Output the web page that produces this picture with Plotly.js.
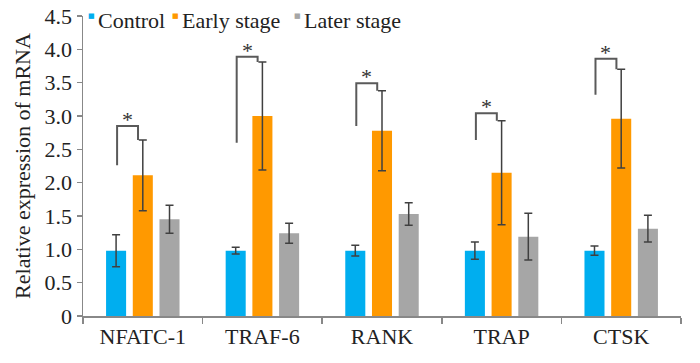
<!DOCTYPE html>
<html>
<head>
<meta charset="utf-8">
<script src="https://cdn.plot.ly/plotly-3.0.1.min.js"></script>
<style>html,body{margin:0;padding:0;background:#fff}#chart{width:700px;height:363px}</style>
</head>
<body>
<div id="chart"></div>
<script>
const categories = ['NFATC-1', 'TRAF-6', 'RANK', 'TRAP', 'CTSK'];
const seriesNames = ['Control', 'Early stage', 'Later stage'];
const control = [0.98, 0.98, 0.98, 0.98, 0.98];
const controlErr = [0.24, 0.05, 0.08, 0.13, 0.07];
const early = [2.11, 3.00, 2.78, 2.15, 2.96];
const earlyErr = [0.53, 0.81, 0.60, 0.78, 0.74];
const later = [1.45, 1.24, 1.53, 1.19, 1.31];
const laterErr = [0.21, 0.15, 0.17, 0.35, 0.20];
const bracketLow = [2.26, 2.60, 2.85, 2.64, 3.32];
const bracketTop = [2.85, 3.89, 3.49, 3.04, 3.86];
const yTickVals = [0, 0.5, 1.0, 1.5, 2.0, 2.5, 3.0, 3.5, 4.0, 4.5];
const yTickText = ['0', '0.5', '1.0', '1.5', '2.0', '2.5', '3.0', '3.5', '4.0', '4.5'];

const colors = ['#00AEEF', '#FF9900', '#A6A6A6'];
const FONT = 'Liberation Serif, Times New Roman, serif';
const errStyle = (arr) => ({type: 'data', array: arr, visible: true, color: '#404040', thickness: 1.5, width: 4});

const traces = [
  {type: 'bar', name: seriesNames[0], x: categories, y: control, marker: {color: colors[0]}, error_y: errStyle(controlErr)},
  {type: 'bar', name: seriesNames[1], x: categories, y: early, marker: {color: colors[1]}, error_y: errStyle(earlyErr)},
  {type: 'bar', name: seriesNames[2], x: categories, y: later, marker: {color: colors[2]}, error_y: errStyle(laterErr)}
];

const shapes = [];
const annotations = [];
const leftOff = -0.215, rightOff = -0.04;
categories.forEach((c, i) => {
  const xl = i + leftOff, xr = i + rightOff;
  const yr = early[i] + earlyErr[i];
  shapes.push({type: 'path', xref: 'x', yref: 'y',
    path: `M ${xl} ${bracketLow[i]} L ${xl} ${bracketTop[i]} L ${xr} ${bracketTop[i]} L ${xr} ${yr}`,
    line: {color: '#5a5a5a', width: 2}});
  annotations.push({xref: 'x', yref: 'y', x: (xl + xr) / 2, y: bracketTop[i], text: '*', showarrow: false,
    yanchor: 'bottom', yshift: -8, font: {family: FONT, size: 22, color: '#333'}});
});

// legend drawn as text entries, each preceded by a small coloured square
const legendX = [0.0217, 0.162, 0.366];
seriesNames.forEach((n, k) => {
  annotations.push({xref: 'paper', yref: 'paper', x: legendX[k], y: 0.985, xanchor: 'left', yanchor: 'middle', showarrow: false,
    text: n, font: {family: FONT, size: 22, color: '#222'}});
  annotations.push({xref: 'paper', yref: 'paper', x: legendX[k], y: 0.985, xanchor: 'right', yanchor: 'middle', showarrow: false,
    text: '■', xshift: 1, yshift: 5, font: {family: 'DejaVu Sans', size: 7, color: colors[k]}});
});

const layout = {
  width: 700, height: 363,
  margin: {l: 83, r: 19, t: 16, b: 47},
  paper_bgcolor: '#fff', plot_bgcolor: '#fff',
  barmode: 'group', bargap: 0.33, bargroupgap: 0.25,
  showlegend: false,
  font: {family: FONT, size: 21, color: '#222'},
  xaxis: {type: 'category', showline: true, linecolor: '#888', linewidth: 1.5, ticks: 'outside', tickson: 'boundaries',
    ticklen: 6, tickcolor: '#888', tickwidth: 1.5, showgrid: false, zeroline: false, range: [-0.5, 4.5],
    tickfont: {family: FONT, size: 22, color: '#222'}},
  yaxis: {range: [0, 4.5], tickvals: yTickVals, ticktext: yTickText, showline: true, linecolor: '#888', linewidth: 1.5,
    ticks: 'outside', ticklen: 5, tickcolor: '#888', tickwidth: 1.5, showgrid: false, zeroline: false,
    tickfont: {family: FONT, size: 22, color: '#222'},
    title: {text: 'Relative expression of mRNA', font: {family: FONT, size: 22, color: '#222'}, standoff: 8}},
  shapes: shapes,
  annotations: annotations
};

Plotly.newPlot('chart', traces, layout, {displayModeBar: false, staticPlot: true});
</script>
</body>
</html>
